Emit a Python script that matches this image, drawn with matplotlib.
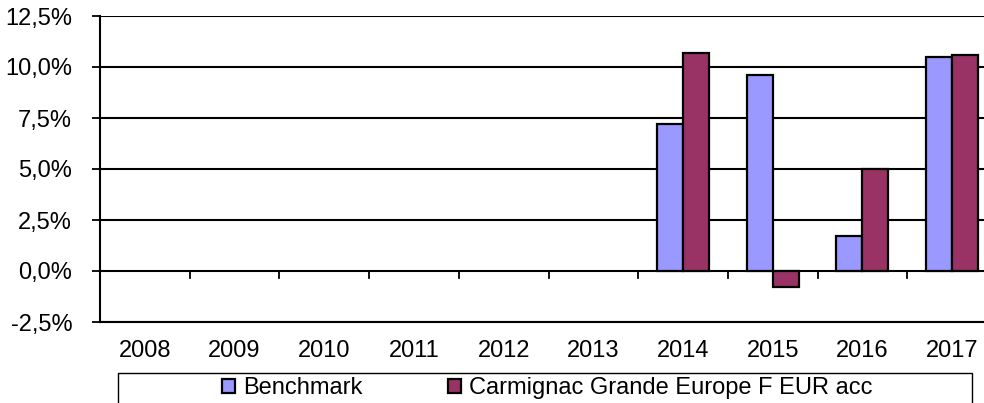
import numpy as np
import matplotlib
matplotlib.use("Agg")
import matplotlib.pyplot as plt
from matplotlib.patches import Rectangle
from matplotlib.ticker import FuncFormatter
from matplotlib import font_manager

years = ["2008", "2009", "2010", "2011", "2012", "2013", "2014", "2015", "2016", "2017"]
benchmark = [np.nan, np.nan, np.nan, np.nan, np.nan, np.nan, 7.2, 9.6, 1.7, 10.5]
carmignac = [np.nan, np.nan, np.nan, np.nan, np.nan, np.nan, 10.7, -0.8, 5.0, 10.6]
series_names = ["Benchmark", "Carmignac Grande Europe F EUR acc"]
y_ticks = [-2.5, 0.0, 2.5, 5.0, 7.5, 10.0, 12.5]

names = {f.name for f in font_manager.fontManager.ttflist}
narrow = "Liberation Sans Narrow" in names
plt.rcParams['font.family'] = ['Liberation Sans Narrow' if narrow else 'Liberation Sans', 'DejaVu Sans']
fs = 19 if narrow else 17

fig = plt.figure(figsize=(9.84, 4.03), dpi=100)
# axes run past the right edge, as in the cropped original
ax = fig.add_axes([100/984, 81/403, 897/984, 306/403])

x = np.arange(len(years))
w = 0.29
ax.bar(x - w/2, benchmark, w, color="#9999FF", edgecolor="black", linewidth=1.6,
       label=series_names[0], zorder=3)
ax.bar(x + w/2, carmignac, w, color="#993366", edgecolor="black", linewidth=1.6,
       label=series_names[1], zorder=3)

ax.set_xlim(-0.5, len(years) - 0.5)
ax.set_ylim(y_ticks[0], y_ticks[-1])
ax.set_yticks(y_ticks)
ax.yaxis.set_major_formatter(FuncFormatter(lambda v, p: f"{v:.1f}%".replace(".", ",")))
ax.grid(axis="y", color="black", linewidth=1.5, zorder=1)

for s in ["top", "right"]:
    ax.spines[s].set_visible(False)
ax.spines["left"].set_linewidth(1.5)
ax.spines["bottom"].set_linewidth(1.5)

ax.tick_params(axis="y", length=6, width=1.3, pad=14, labelsize=fs)
ax.set_xticks(x)
ax.set_xticklabels(years)
ax.tick_params(axis="x", length=0, pad=13, labelsize=fs)

# category separator ticks on the zero line
for b in x[:-1] + 0.5:
    ax.plot([b, b], [0, -0.35], color="black", linewidth=1.3, zorder=4)

fig.patches.append(Rectangle((118/984, -0.05), (972-118)/984, 1 - 373/403 + 0.05,
                             transform=fig.transFigure, fill=False,
                             edgecolor="black", linewidth=1.0))
fig.legend(loc="center", bbox_to_anchor=(0.556, 1 - 388/403), ncol=2, frameon=False,
           fontsize=fs, handlelength=0.55, handleheight=0.55, handletextpad=0.35,
           columnspacing=3.6, borderaxespad=0)

fig.savefig("out.png", dpi=100)
